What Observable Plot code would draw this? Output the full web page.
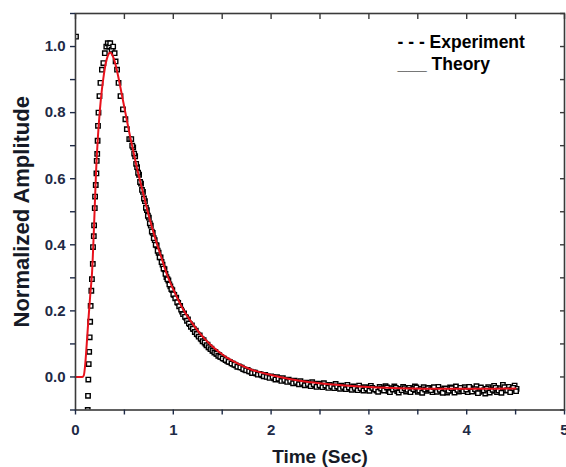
<!DOCTYPE html>
<html>
<head>
<meta charset="utf-8">
<script src="https://cdn.jsdelivr.net/npm/d3@7"></script>
<script src="https://cdn.jsdelivr.net/npm/@observablehq/plot@0.6"></script>
<style>
  html, body { margin: 0; padding: 0; background: #fff; }
  #chart { width: 566px; height: 467px; }
</style>
</head>
<body>
<div id="chart"></div>
<script>
// ---- data ----
const expTime = [
  0.005,
  0.125, 0.128, 0.131, 0.135, 0.140, 0.145, 0.150, 0.155, 0.162, 0.168,
  0.177, 0.179, 0.187, 0.190, 0.197, 0.200, 0.207, 0.214, 0.217, 0.222,
  0.226, 0.230, 0.235, 0.245, 0.255, 0.270, 0.285, 0.300, 0.315, 0.330,
  0.345, 0.355, 0.370, 0.385, 0.400, 0.410, 0.425, 0.440, 0.460, 0.485,
  0.510, 0.525, 0.550,
  0.57, 0.59, 0.61, 0.63, 0.65, 0.67, 0.69, 0.71, 0.73, 0.75,
  0.77, 0.79, 0.81, 0.83, 0.85, 0.87, 0.89, 0.91, 0.93, 0.95,
  0.97, 0.99, 1.01, 1.03, 1.05, 1.07, 1.09, 1.11, 1.13, 1.15,
  1.17, 1.19, 1.21, 1.23, 1.25, 1.27, 1.29, 1.31, 1.33, 1.35,
  1.37, 1.39, 1.41, 1.43, 1.45, 1.47, 1.49, 1.52, 1.55, 1.58,
  1.61, 1.64, 1.67, 1.70, 1.73, 1.76, 1.79, 1.82, 1.85, 1.88,
  1.91, 1.94, 1.97, 2.00, 2.03, 2.06, 2.09, 2.12, 2.15, 2.18,
  2.21, 2.24, 2.27, 2.30, 2.33, 2.36, 2.39, 2.42, 2.45, 2.48,
  2.51, 2.54, 2.57, 2.60, 2.63, 2.66, 2.69, 2.72, 2.75, 2.78,
  2.81, 2.84, 2.87, 2.90, 2.93, 2.96, 2.99, 3.02, 3.05, 3.08,
  3.11, 3.14, 3.17, 3.20, 3.23, 3.26, 3.29, 3.32, 3.35, 3.38,
  3.41, 3.44, 3.47, 3.50, 3.53, 3.56, 3.59, 3.62, 3.65, 3.68,
  3.71, 3.74, 3.77, 3.80, 3.83, 3.86, 3.89, 3.92, 3.95, 3.98,
  4.01, 4.04, 4.07, 4.10, 4.13, 4.16, 4.19, 4.22, 4.25, 4.28,
  4.31, 4.34, 4.37, 4.40, 4.43, 4.46, 4.49, 4.51
];
const expAmp = [
  1.03,
  -0.100, -0.057, -0.008, 0.039, 0.076, 0.120, 0.167, 0.215, 0.261, 0.296,
  0.342, 0.393, 0.426, 0.459, 0.511, 0.546, 0.581, 0.616, 0.654, 0.675,
  0.715, 0.760, 0.800, 0.850, 0.890, 0.930, 0.950, 0.980, 1.000, 1.010,
  1.000, 1.010, 0.990, 1.000, 0.980, 0.955, 0.930, 0.890, 0.850, 0.810,
  0.780, 0.750, 0.720,
  0.720, 0.695, 0.668, 0.635, 0.612, 0.585, 0.560, 0.532, 0.505, 0.482,
  0.458, 0.436, 0.414, 0.398, 0.376, 0.362, 0.340, 0.326, 0.302, 0.292,
  0.274, 0.263, 0.248, 0.240, 0.224, 0.215, 0.198, 0.192, 0.180, 0.174,
  0.160, 0.156, 0.145, 0.140, 0.128, 0.126, 0.114, 0.111, 0.100, 0.098,
  0.090, 0.086, 0.078, 0.076, 0.069, 0.066, 0.061, 0.055, 0.049, 0.045,
  0.040, 0.035, 0.032, 0.028, 0.022, 0.021, 0.016, 0.014, 0.010, 0.009,
  0.005, 0.006, 0.001, 0.002, -0.004, -0.001, -0.007, -0.004, -0.011, -0.008,
  -0.014, -0.011, -0.018, -0.013, -0.020, -0.017, -0.023, -0.016, -0.025, -0.020,
  -0.027, -0.019, -0.028, -0.024, -0.030, -0.021, -0.031, -0.026, -0.033, -0.024,
  -0.034, -0.029, -0.036, -0.026, -0.037, -0.031, -0.038, -0.027, -0.036, -0.041,
  -0.030, -0.039, -0.028, -0.042, -0.034, -0.029, -0.043, -0.036, -0.030, -0.044,
  -0.033, -0.040, -0.029, -0.045, -0.036, -0.031, -0.042, -0.033, -0.046, -0.038,
  -0.030, -0.043, -0.035, -0.047, -0.032, -0.041, -0.029, -0.044, -0.037, -0.031,
  -0.046, -0.034, -0.040, -0.028, -0.045, -0.036, -0.050, -0.031, -0.042, -0.027,
  -0.046, -0.034, -0.024, -0.041, -0.030, -0.038, -0.026, -0.036
];
// second interleaved sweep of the dense decaying band
const expTimeB = [
  0.58, 0.60, 0.62, 0.64, 0.66, 0.68, 0.70, 0.72, 0.74, 0.76,
  0.78, 0.80, 0.82, 0.84, 0.86, 0.88, 0.90, 0.92, 0.94, 0.96,
  0.98, 1.00, 1.02, 1.04, 1.06, 1.08, 1.10, 1.12, 1.14, 1.16,
  1.18, 1.20, 1.22, 1.24, 1.26, 1.28, 1.30, 1.32, 1.34, 1.36,
  1.38, 1.40, 1.42, 1.44, 1.46, 1.48, 1.505, 1.535, 1.565, 1.595,
  1.625, 1.655, 1.685, 1.715, 1.745, 1.775, 1.805, 1.835, 1.865, 1.895,
  1.925, 1.955, 1.985, 2.015, 2.045, 2.075, 2.105, 2.135, 2.165, 2.195,
  2.225, 2.255, 2.285, 2.315, 2.345, 2.375, 2.405, 2.435, 2.465, 2.495,
  2.525, 2.555, 2.585, 2.615, 2.645, 2.675, 2.705, 2.735, 2.765, 2.795,
  2.825, 2.855, 2.885, 2.915, 2.945, 2.975, 3.005, 3.035, 3.065, 3.095,
  3.125, 3.155, 3.185, 3.215, 3.245, 3.275, 3.305, 3.335, 3.365, 3.395,
  3.425, 3.455, 3.485, 3.515, 3.545, 3.575, 3.605, 3.635, 3.665, 3.695,
  3.725, 3.755, 3.785, 3.815, 3.845, 3.875, 3.905, 3.935, 3.965, 3.995,
  4.025, 4.055, 4.085, 4.115, 4.145, 4.175, 4.205, 4.235, 4.265, 4.295,
  4.325, 4.355, 4.385, 4.415, 4.445, 4.475, 4.505
];
const expAmpB = [
  0.700, 0.676, 0.645, 0.618, 0.590, 0.566, 0.540, 0.512, 0.488, 0.465,
  0.440, 0.420, 0.400, 0.382, 0.362, 0.348, 0.328, 0.312, 0.296, 0.280,
  0.266, 0.250, 0.238, 0.226, 0.214, 0.204, 0.190, 0.182, 0.170, 0.162,
  0.152, 0.146, 0.136, 0.130, 0.122, 0.116, 0.108, 0.104, 0.096, 0.090,
  0.084, 0.079, 0.074, 0.070, 0.064, 0.061, 0.056, 0.051, 0.046, 0.041,
  0.037, 0.031, 0.029, 0.024, 0.020, 0.017, 0.012, 0.013, 0.007, 0.008,
  0.002, 0.000, -0.003, 0.000, -0.008, -0.005, -0.012, -0.009, -0.015, -0.012,
  -0.019, -0.015, -0.022, -0.018, -0.025, -0.021, -0.028, -0.022, -0.030, -0.025,
  -0.031, -0.026, -0.033, -0.028, -0.034, -0.029, -0.036, -0.030, -0.037, -0.032,
  -0.039, -0.033, -0.040, -0.034, -0.041, -0.035, -0.042, -0.033, -0.038, -0.045,
  -0.035, -0.041, -0.032, -0.046, -0.038, -0.033, -0.047, -0.040, -0.034, -0.039,
  -0.046, -0.037, -0.032, -0.041, -0.048, -0.038, -0.034, -0.040, -0.031, -0.045,
  -0.039, -0.048, -0.036, -0.042, -0.034, -0.047, -0.039, -0.033, -0.043, -0.038,
  -0.030, -0.044, -0.037, -0.049, -0.032, -0.041, -0.036, -0.047, -0.039, -0.033,
  -0.041, -0.048, -0.031, -0.040, -0.046, -0.033, -0.043
];

const theoryTime = [
  0, 0.04, 0.07, 0.085, 0.10, 0.115, 0.13, 0.15, 0.17, 0.19,
  0.21, 0.23, 0.25, 0.27, 0.29, 0.31, 0.33, 0.355, 0.38, 0.41,
  0.44, 0.47, 0.51, 0.55, 0.59, 0.63, 0.68, 0.73, 0.78, 0.83,
  0.88, 0.935, 1.0, 1.1, 1.2, 1.3, 1.4, 1.53, 1.65, 1.8,
  2.0, 2.2, 2.4, 2.6, 2.9, 3.3, 3.8, 4.2, 4.5
];
const theoryAmp = [
  0, 0, 0, 0.005, 0.04, 0.10, 0.165, 0.245, 0.32, 0.46,
  0.62, 0.73, 0.81, 0.87, 0.915, 0.95, 0.972, 0.982, 0.972, 0.945,
  0.905, 0.86, 0.80, 0.74, 0.685, 0.63, 0.57, 0.51, 0.455, 0.405,
  0.36, 0.31, 0.265, 0.205, 0.16, 0.122, 0.092, 0.062, 0.042, 0.022,
  0.006, -0.007, -0.016, -0.022, -0.029, -0.034, -0.036, -0.036, -0.035
];

const xDomain = [0, 5];
const yDomain = [-0.1, 1.1];
const xTicks = [0, 0.5, 1, 1.5, 2, 2.5, 3, 3.5, 4, 4.5, 5];
const yTicks = [-0.1, 0, 0.1, 0.2, 0.3, 0.4, 0.5, 0.6, 0.7, 0.8, 0.9, 1.0, 1.1];
const yLabelTicks = [0, 0.2, 0.4, 0.6, 0.8, 1.0];
const xLabel = "Time (Sec)";
const yLabel = "Normalized Amplitude";
const legendLabels = ["- - - Experiment", "___ Theory"];

// ---- build tables ----
const experiment = expTime.map((t, i) => ({t, v: expAmp[i]}))
  .concat(expTimeB.map((t, i) => ({t, v: expAmpB[i]})));
const theory = theoryTime.map((t, i) => ({t, v: theoryAmp[i]}));

const FONT = "'Liberation Sans', Arial, Helvetica, sans-serif";
const tickColor = "#1e2a46";
const frameColor = "#3a3a3a";

const xFmt = d => Number.isInteger(d) ? String(d) : "";
const yFmt = d => yLabelTicks.some(v => Math.abs(v - d) < 1e-9) ? d.toFixed(1) : "";

const chart = Plot.plot({
  width: 566,
  height: 467,
  marginLeft: 75,
  marginRight: 2,
  marginTop: 13,
  marginBottom: 57.5,
  style: {fontFamily: FONT, background: "#fff", overflow: "visible"},
  x: {domain: xDomain},
  y: {domain: yDomain},
  marks: [
    Plot.dot(experiment, {
      x: "t", y: "v", symbol: "square", r: 2.5,
      stroke: "#000", strokeWidth: 1.4, fill: "#fff", clip: true
    }),
    Plot.line(theory, {
      x: "t", y: "v", curve: "monotone-x",
      stroke: "#e8121c", strokeWidth: 2
    }),
    Plot.frame({stroke: frameColor, strokeWidth: 1.6}),
    // bottom axis (outward ticks, integer labels)
    Plot.axisX({
      anchor: "bottom", ticks: xTicks, tickFormat: xFmt, tickSize: 5,
      tickPadding: 9, fontSize: 15, fontWeight: "bold", color: tickColor,
      strokeWidth: 1.4, label: null
    }),
    // top axis (inward ticks, no labels)
    Plot.axisX({
      anchor: "top", ticks: xTicks, tickFormat: () => "", tickSize: 5, dy: 5,
      color: frameColor, strokeWidth: 1.4, label: null
    }),
    // left axis (outward ticks, labels every 0.2)
    Plot.axisY({
      anchor: "left", ticks: yTicks, tickFormat: yFmt, tickSize: 5,
      tickPadding: 5, fontSize: 15, fontWeight: "bold", color: tickColor,
      strokeWidth: 1.4, label: null
    }),
    // right axis (inward ticks)
    Plot.axisY({
      anchor: "right", ticks: yTicks, tickFormat: () => "", tickSize: 5, dx: -5,
      color: frameColor, strokeWidth: 1.4, label: null
    }),
    // axis titles
    Plot.text([xLabel], {
      frameAnchor: "bottom", dy: 47, lineAnchor: "middle", text: d => d,
      fontSize: 19, fontWeight: "bold", fill: "#161a26"
    }),
    Plot.text([yLabel], {
      frameAnchor: "left", rotate: -90, dx: -54, dy: 0, lineAnchor: "middle",
      textAnchor: "middle", text: d => d, fontSize: 22, fontWeight: "bold", fill: "#161a26"
    }),
    // legend
    Plot.text([legendLabels[0]], {
      frameAnchor: "top-left", dx: 322, dy: 29, textAnchor: "start",
      lineAnchor: "middle", text: d => d, fontSize: 17.5, fontWeight: "bold", fill: "#000"
    }),
    Plot.text([legendLabels[1]], {
      frameAnchor: "top-left", dx: 322, dy: 51, textAnchor: "start",
      lineAnchor: "middle", text: d => d, fontSize: 17.5, fontWeight: "bold", fill: "#000"
    })
  ]
});

document.getElementById("chart").appendChild(chart);
</script>
</body>
</html>
